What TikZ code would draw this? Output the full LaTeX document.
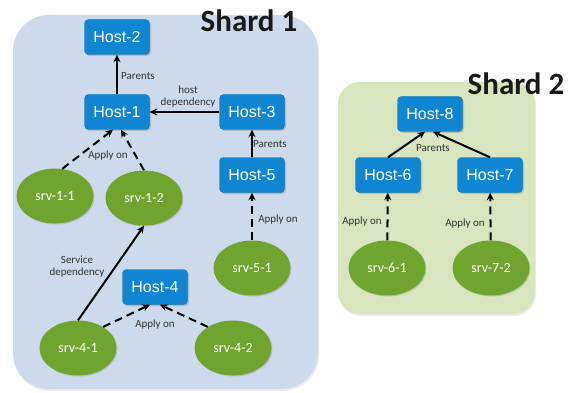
\documentclass[tikz,border=0pt]{standalone}
\usepackage{fontspec}
\setmainfont{Carlito}
\newfontfamily\hostfont{Liberation Sans}
\usetikzlibrary{arrows.meta,shadows,shapes.geometric}
\definecolor{hostblue}{HTML}{1086D3}
\definecolor{srvgreen}{HTML}{6FA52F}
\definecolor{shardone}{HTML}{CCDAEB}
\definecolor{shardtwo}{HTML}{D8E5BE}
\tikzset{
  host/.style={rectangle, rounded corners=4pt, fill=hostblue, draw=hostblue!80!black, line width=0.4pt,
    minimum width=65pt, minimum height=35pt, text=white, font=\hostfont\fontsize{16}{18}\selectfont,
    drop shadow={opacity=0.35, shadow xshift=1.5pt, shadow yshift=-1.5pt}},
  srv/.style={ellipse, fill=srvgreen, minimum width=77pt, minimum height=55pt, inner sep=0pt,
    text=white, font=\fontsize{14}{16}\selectfont,
    drop shadow={opacity=0.3, shadow xshift=1pt, shadow yshift=-1pt}},
  lbl/.style={font=\fontsize{11}{12}\selectfont, text=black!80, inner sep=1pt, align=center},
  title/.style={font=\bfseries\fontsize{31}{34}\selectfont, text=black!90},
  shard/.style={rounded corners=#1, drop shadow={opacity=0.15, shadow xshift=1pt, shadow yshift=-2pt}},
  link/.style={line width=2pt, -{Stealth[length=7.5pt,width=7pt]}},
  apply/.style={link, dash pattern=on 8pt off 5pt},
}
\begin{document}
\begin{tikzpicture}[x=1pt, y=-1pt]
  \useasboundingbox (0,0) rectangle (570,393);
  % shard panels
  \fill[shardone, shard=36pt] (13,15) rectangle (318,389);
  \fill[shardtwo, shard=22pt] (338,82) rectangle (535,314);
  \node[title] (t1) at (249,21) {Shard 1};
  \node[title] (t2) at (516,84) {Shard 2};
  % hosts
  \node[host] (h2) at (117,37) {Host-2};
  \node[host] (h1) at (117,112) {Host-1};
  \node[host] (h3) at (252,112) {Host-3};
  \node[host] (h5) at (252,175) {Host-5};
  \node[host] (h4) at (155,287) {Host-4};
  \node[host] (h8) at (430,114) {Host-8};
  \node[host] (h6) at (388,175) {Host-6};
  \node[host] (h7) at (490,175) {Host-7};
  % services
  \node[srv] (s11) at (55,196) {srv-1-1};
  \node[srv] (s12) at (144,198) {srv-1-2};
  \node[srv] (s51) at (252,268) {srv-5-1};
  \node[srv] (s41) at (78,348) {srv-4-1};
  \node[srv] (s42) at (233,348) {srv-4-2};
  \node[srv] (s61) at (387,268) {srv-6-1};
  \node[srv] (s72) at (491,268) {srv-7-2};
  % links
  \draw[link] (h1) -- (h2);
  \draw[link] (h3) -- (h1);
  \draw[link] (h5) -- (h3);
  \draw[apply] (s11.75) -- ([xshift=-4pt]h1.south);
  \draw[apply] (s12.north) -- ([xshift=4pt]h1.south);
  \draw[apply] (s51) -- (h5);
  \draw[link] (s41.north) -- (s12.south);
  \draw[apply] (s41.40) -- ([xshift=-5pt]h4.south);
  \draw[apply] (s42.140) -- ([xshift=5pt]h4.south);
  \draw[link] (h6.north) -- ([xshift=-5pt]h8.south);
  \draw[link] (h7.north) -- ([xshift=3pt]h8.south);
  \draw[apply] (s61) -- (h6);
  \draw[apply] (s72) -- (h7);
  % labels
  \node[lbl] (l1) at (138,76) {Parents};
  \node[lbl] (l2) at (188,97) {host\\dependency};
  \node[lbl] (l3) at (270,144) {Parents};
  \node[lbl] (l4) at (108,156) {Apply on};
  \node[lbl] (l5) at (278,220) {Apply on};
  \node[lbl] (l6) at (77,267) {Service\\dependency};
  \node[lbl] (l7) at (155,325) {Apply on};
  \node[lbl] (l8) at (433,148) {Parents};
  \node[lbl] (l9) at (362,222) {Apply on};
  \node[lbl] (l10) at (465,224) {Apply on};
\end{tikzpicture}
\end{document}
